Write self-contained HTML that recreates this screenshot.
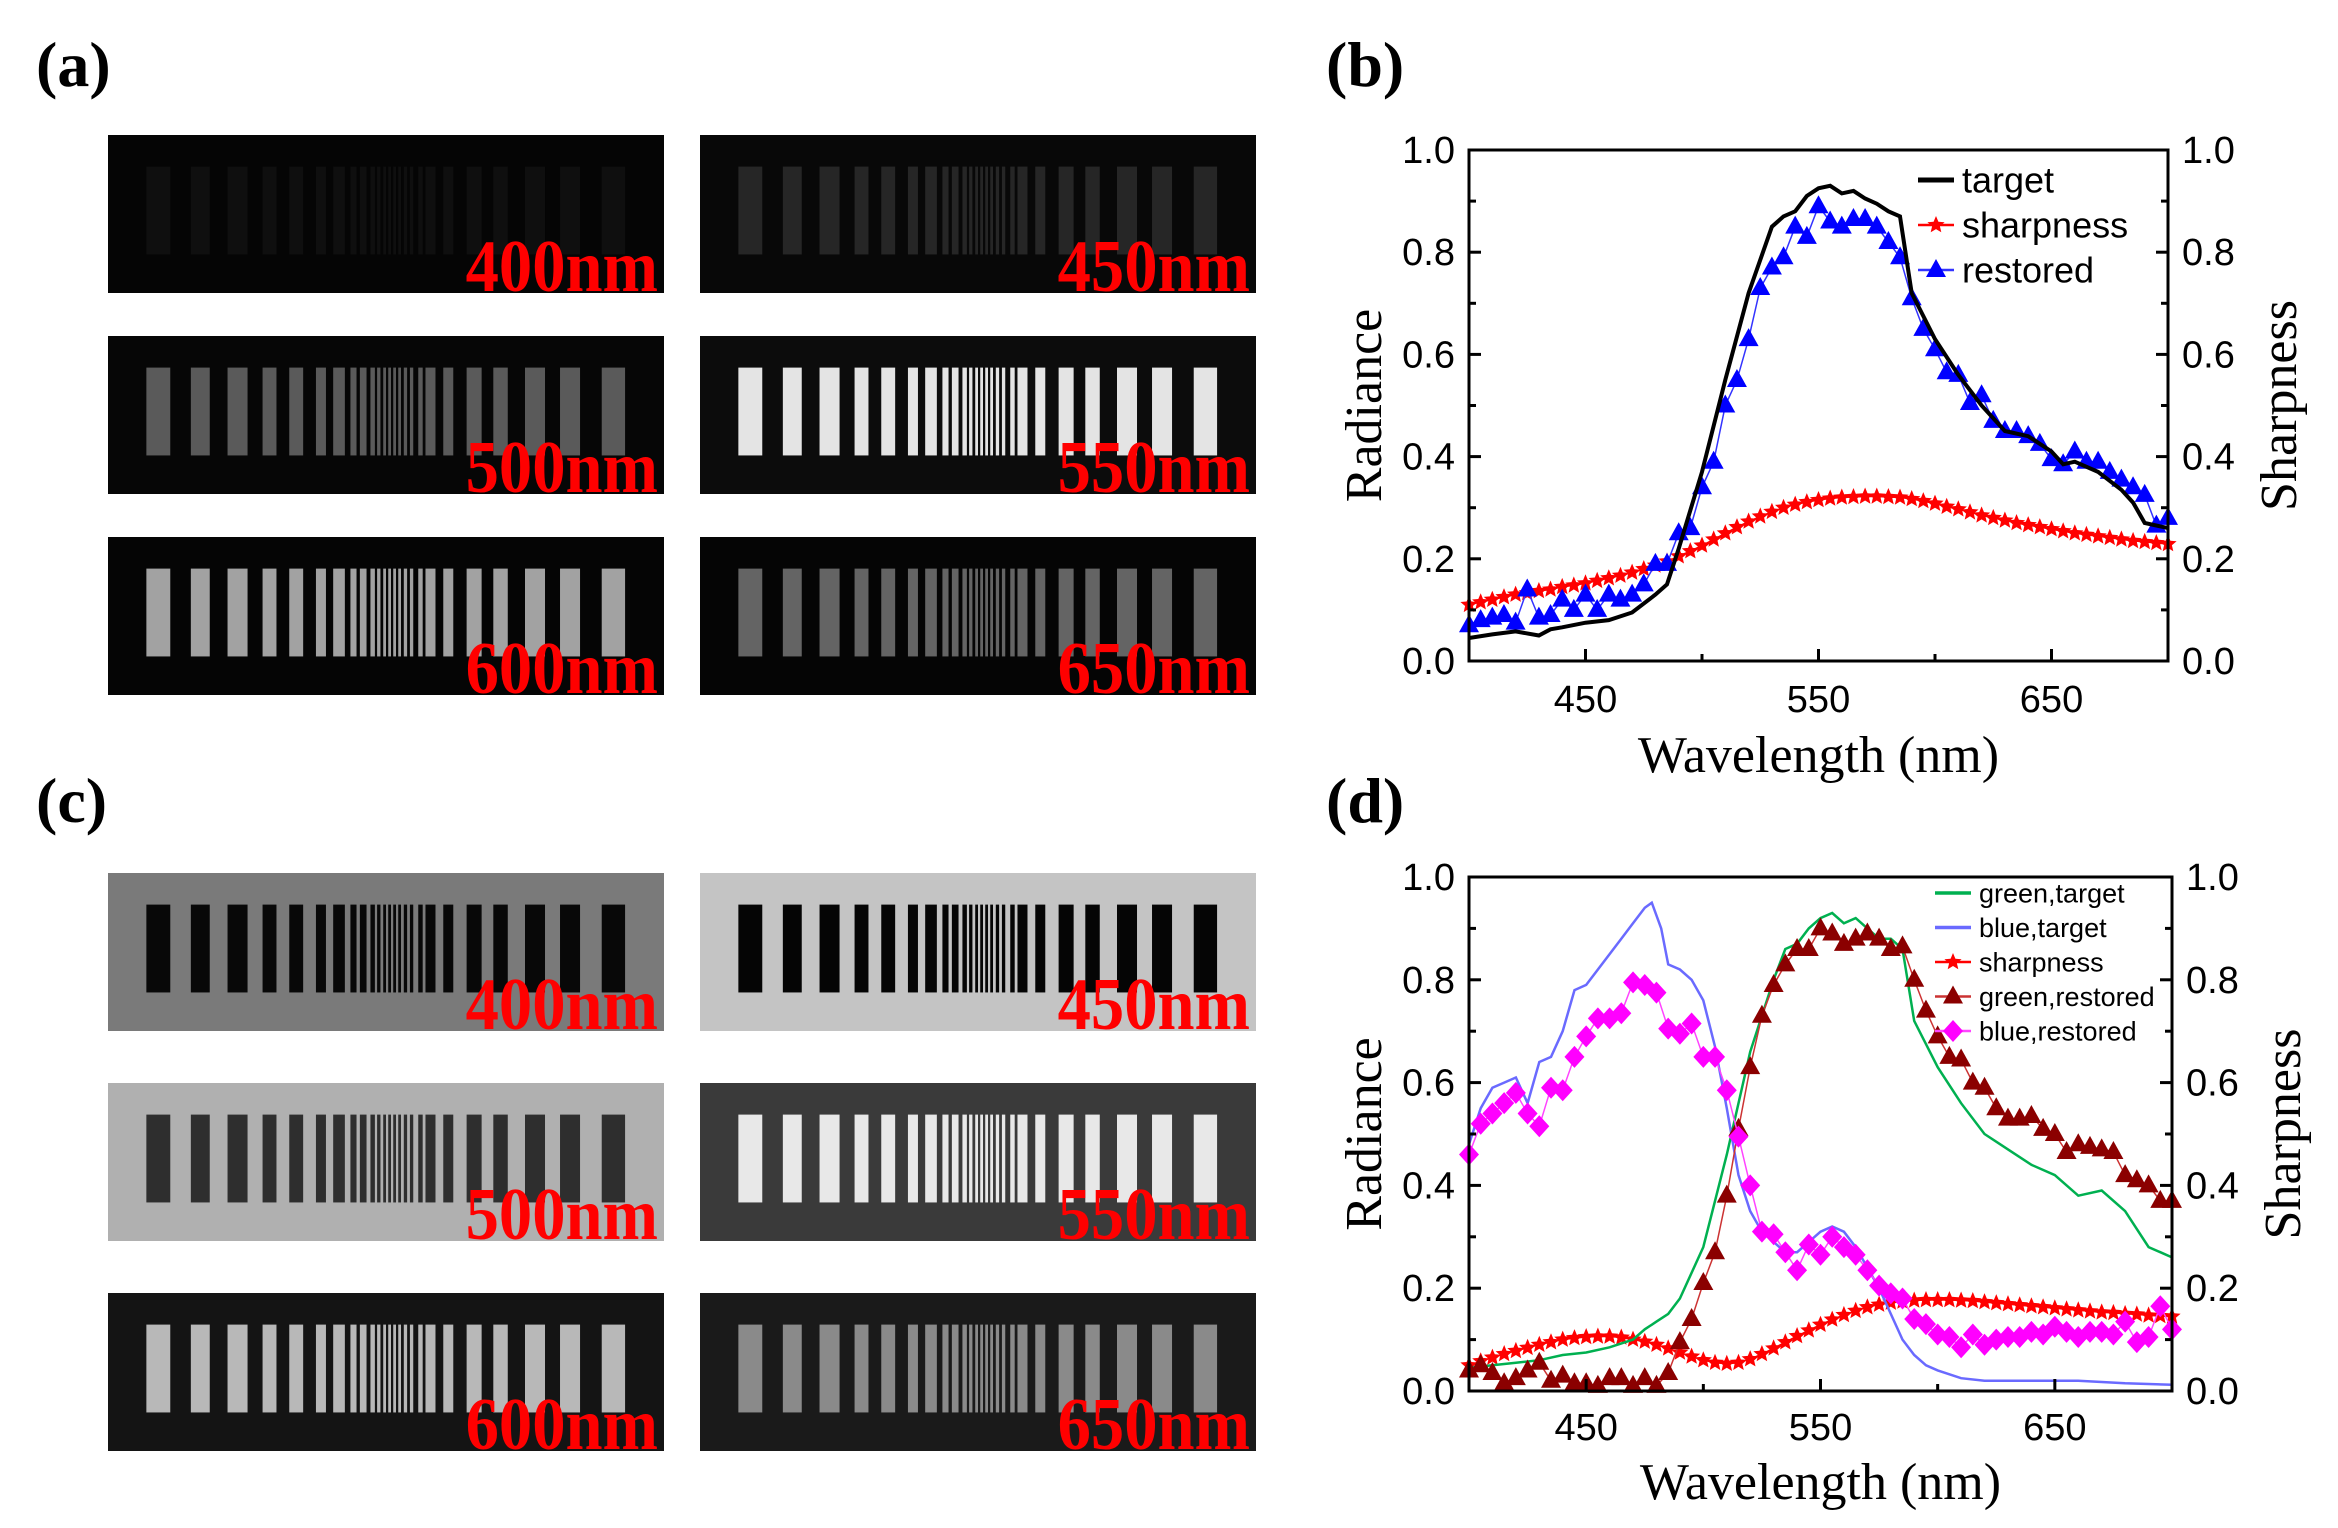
<!DOCTYPE html>
<html><head><meta charset="utf-8"><style>
html,body{margin:0;padding:0;background:#fff;}
svg{display:block;}
</style></head><body>
<svg id="fig" xmlns="http://www.w3.org/2000/svg" width="2338" height="1528" viewBox="0 0 2338 1528">
<rect width="2338" height="1528" fill="#fff"/>
<g font-family="Liberation Serif, serif" font-weight="bold" font-size="64" fill="#000">
<text x="36" y="86">(a)</text>
<text x="1326" y="86">(b)</text>
<text x="36" y="822">(c)</text>
<text x="1326" y="822">(d)</text>
</g>
<g id="tiles"></g>
<g id="chartB"></g>
<g id="chartD"></g>
</svg>
<script>
// ---- bar target geometry (fractions of tile width) ----
const barStarts=[0.069,0.149,0.215,0.278,0.326,0.374,0.405,0.436,0.453,0.472,0.484,0.495,0.504,0.513,0.522,0.532,0.543,0.558,0.571,0.603,0.645,0.693,0.750,0.813,0.888];
const barEnds=[0.112,0.183,0.251,0.303,0.351,0.392,0.426,0.447,0.465,0.480,0.490,0.500,0.509,0.518,0.527,0.538,0.549,0.566,0.589,0.621,0.672,0.719,0.786,0.849,0.930];
const tileLabels=["400nm","450nm","500nm","550nm","600nm","650nm"];
const aBg=["#050505","#080808","#060606","#0c0c0c","#050505","#050505"];
const aBar=["#0f0f0f","#262626","#5a5a5a","#e4e4e4","#a2a2a2","#646464"];
const cBg=["#7a7a7a","#c4c4c4","#b0b0b0","#3a3a3a","#141414","#1a1a1a"];
const cBar=["#080808","#050505","#2e2e2e","#e8e8e8","#b8b8b8","#8a8a8a"];
const NS="http://www.w3.org/2000/svg";
function mk(tag,attrs,parent){const e=document.createElementNS(NS,tag);for(const k in attrs)e.setAttribute(k,attrs[k]);parent.appendChild(e);return e;}
const tilesG=document.getElementById('tiles');
const colX=[108,700], tileW=556, tileH=158;
const rowsA=[135,336,537], rowsC=[873,1083,1293];
function drawTiles(rows,bg,bar,pre){
 for(let i=0;i<6;i++){
  const x=colX[i%2], y=rows[Math.floor(i/2)];
  const g=mk('g',{},tilesG);
  
  
  mk('rect',{x:x,y:y,width:tileW,height:tileH,fill:bg[i]},g);
  for(let j=0;j<barStarts.length;j++){
   const r=mk('rect',{x:x+barStarts[j]*tileW,y:y+0.2*tileH,width:(barEnds[j]-barStarts[j])*tileW,height:0.556*tileH,fill:bar[i]},g);
   
   
  }
  const t=mk('text',{x:0,y:0,'font-family':'Liberation Serif, serif','font-weight':'bold','font-size':'74',fill:'#ff0000','text-anchor':'end',transform:`translate(${x+tileW-6},${y+tileH-2}) scale(0.9,1)`},g);
  t.textContent=tileLabels[i];
  
  
 }
}
drawTiles(rowsA,aBg,aBar,'a');
drawTiles(rowsC,cBg,cBar,'c');

// ---- chart b data ----
const bTargetX=[400,410,420,430,435,440,450,460,470,480,485,490,500,510,520,530,535,540,545,550,555,560,565,570,575,580,585,590,600,610,620,630,640,650,655,660,670,680,685,690,700];
const bTargetY=[0.045,0.052,0.058,0.05,0.062,0.066,0.075,0.08,0.095,0.13,0.15,0.22,0.37,0.55,0.72,0.85,0.87,0.88,0.91,0.925,0.93,0.915,0.92,0.905,0.895,0.88,0.87,0.72,0.63,0.56,0.5,0.45,0.44,0.41,0.385,0.39,0.37,0.335,0.31,0.27,0.26];
const bRestX=[400,405,410,415,420,425,430,435,440,445,450,455,460,465,470,475,480,485,490,495,500,505,510,515,520,525,530,535,540,545,550,555,560,565,570,575,580,585,590,595,600,605,610,615,620,625,630,635,640,645,650,655,660,665,670,675,680,685,690,695,700];
const bRestY=[0.07,0.08,0.085,0.09,0.075,0.14,0.085,0.09,0.12,0.1,0.13,0.1,0.13,0.12,0.13,0.15,0.19,0.19,0.25,0.26,0.34,0.39,0.5,0.55,0.63,0.73,0.77,0.79,0.85,0.83,0.89,0.86,0.85,0.865,0.865,0.85,0.82,0.79,0.71,0.65,0.61,0.565,0.56,0.505,0.52,0.47,0.45,0.45,0.44,0.425,0.395,0.385,0.41,0.39,0.39,0.37,0.355,0.34,0.325,0.265,0.28];
const bSharpX=[400,405,410,415,420,425,430,435,440,445,450,455,460,465,470,475,480,485,490,495,500,505,510,515,520,525,530,535,540,545,550,555,560,565,570,575,580,585,590,595,600,605,610,615,620,625,630,635,640,645,650,655,660,665,670,675,680,685,690,695,700];
const bSharpY=[0.11,0.115,0.12,0.125,0.13,0.133,0.137,0.14,0.145,0.148,0.152,0.157,0.162,0.167,0.173,0.18,0.187,0.195,0.205,0.215,0.226,0.238,0.25,0.262,0.273,0.283,0.292,0.3,0.306,0.311,0.315,0.318,0.32,0.321,0.322,0.322,0.321,0.32,0.317,0.313,0.308,0.302,0.297,0.291,0.285,0.28,0.275,0.27,0.266,0.262,0.258,0.254,0.25,0.247,0.244,0.241,0.238,0.235,0.233,0.231,0.229];

// ---- chart d data ----
const dGreenX=[400,410,420,430,440,450,460,470,475,480,485,490,500,510,520,530,535,540,545,550,555,560,565,570,575,580,585,590,600,610,620,630,640,650,660,670,680,690,695,700];
const dGreenY=[0.045,0.05,0.055,0.06,0.07,0.075,0.085,0.1,0.12,0.135,0.15,0.18,0.28,0.46,0.66,0.8,0.86,0.87,0.9,0.92,0.93,0.91,0.92,0.9,0.88,0.88,0.86,0.72,0.63,0.56,0.5,0.47,0.44,0.42,0.38,0.39,0.35,0.28,0.27,0.26];
const dBlueX=[400,405,410,415,420,425,430,435,440,445,450,455,460,465,470,475,478,482,485,490,495,500,505,510,515,520,525,530,535,540,545,550,555,560,565,570,575,580,585,590,595,600,610,620,640,660,680,700];
const dBlueY=[0.48,0.55,0.59,0.6,0.61,0.56,0.64,0.65,0.7,0.78,0.79,0.82,0.85,0.88,0.91,0.94,0.95,0.9,0.83,0.82,0.8,0.76,0.67,0.55,0.42,0.35,0.31,0.29,0.27,0.27,0.29,0.31,0.32,0.31,0.28,0.24,0.2,0.15,0.1,0.07,0.05,0.04,0.025,0.02,0.02,0.02,0.015,0.012];
const dGRestX=[400,405,410,415,420,425,430,435,440,445,450,455,460,465,470,475,480,485,490,495,500,505,510,515,520,525,530,535,540,545,550,555,560,565,570,575,580,585,590,595,600,605,610,615,620,625,630,635,640,645,650,655,660,665,670,675,680,685,690,695,700];
const dGRestY=[0.04,0.05,0.035,0.015,0.025,0.04,0.055,0.02,0.03,0.015,0.015,0.01,0.025,0.025,0.01,0.025,0.01,0.035,0.095,0.14,0.21,0.27,0.38,0.51,0.63,0.73,0.79,0.83,0.86,0.86,0.9,0.89,0.87,0.88,0.89,0.88,0.86,0.865,0.8,0.74,0.69,0.65,0.645,0.6,0.59,0.55,0.53,0.53,0.535,0.51,0.5,0.465,0.48,0.475,0.47,0.465,0.42,0.41,0.4,0.37,0.37];
const dBRestX=[400,405,410,415,420,425,430,435,440,445,450,455,460,465,470,475,480,485,490,495,500,505,510,515,520,525,530,535,540,545,550,555,560,565,570,575,580,585,590,595,600,605,610,615,620,625,630,635,640,645,650,655,660,665,670,675,680,685,690,695,700];
const dBRestY=[0.46,0.52,0.54,0.56,0.58,0.54,0.515,0.59,0.585,0.65,0.69,0.725,0.725,0.735,0.795,0.79,0.775,0.705,0.695,0.715,0.65,0.65,0.585,0.495,0.4,0.31,0.305,0.27,0.235,0.285,0.265,0.3,0.28,0.265,0.235,0.205,0.19,0.18,0.14,0.13,0.11,0.105,0.085,0.11,0.09,0.1,0.105,0.105,0.115,0.11,0.125,0.115,0.105,0.115,0.115,0.11,0.135,0.095,0.105,0.165,0.12];
const dSharpX=[400,405,410,415,420,425,430,435,440,445,450,455,460,465,470,475,480,485,490,495,500,505,510,515,520,525,530,535,540,545,550,555,560,565,570,575,580,585,590,595,600,605,610,615,620,625,630,635,640,645,650,655,660,665,670,675,680,685,690,695,700];
const dSharpY=[0.05,0.058,0.065,0.072,0.078,0.084,0.09,0.095,0.1,0.103,0.105,0.106,0.106,0.104,0.1,0.096,0.09,0.083,0.075,0.067,0.06,0.055,0.053,0.055,0.062,0.072,0.083,0.095,0.107,0.118,0.129,0.139,0.148,0.156,0.163,0.168,0.172,0.174,0.176,0.177,0.177,0.177,0.176,0.175,0.173,0.171,0.169,0.167,0.165,0.163,0.161,0.159,0.157,0.155,0.153,0.152,0.15,0.149,0.147,0.146,0.145];
const xTicks=[450,550,650];
const yTickLabels=["0.0","0.2","0.4","0.6","0.8","1.0"];
const yTickVals=[0,0.2,0.4,0.6,0.8,1.0];

function star(cx,cy,r){let p=[];for(let k=0;k<10;k++){const a=-Math.PI/2+k*Math.PI/5;const rr=k%2?r*0.45:r;p.push((cx+rr*Math.cos(a)).toFixed(1)+','+(cy+rr*Math.sin(a)).toFixed(1));}return p.join(' ');}
function marker(g,type,x,y,color,name){
 let e;
 if(type==='tri') e=mk('polygon',{points:`${x},${y-11} ${x-10},${y+7} ${x+10},${y+7}`,fill:color},g);
 else if(type==='star') e=mk('polygon',{points:star(x,y,9),fill:color},g);
 else if(type==='dia') e=mk('polygon',{points:`${x},${y-11} ${x+10},${y} ${x},${y+11} ${x-10},${y}`,fill:color},g);
 else e=mk('circle',{cx:x,cy:y,r:2.5,fill:color},g);
 
 
}
function chart(id,L,R,T,B,series,legend,lx,ly,lstep,lfs,titleY,tickY){
 const g=document.getElementById(id);
 const sx=v=>L+(v-400)/300*(R-L), sy=v=>B-v*(B-T);
 for(const s of series){
  const sg=mk('g',{},g);
  
  
  const pts=s.x.map((v,i)=>sx(v).toFixed(1)+','+sy(s.y[i]).toFixed(1)).join(' ');
  mk('polyline',{points:pts,fill:'none',stroke:s.line,'stroke-width':s.w},sg);
  if(s.m) s.x.forEach((v,i)=>marker(sg,s.m,sx(v),sy(s.y[i]),s.mc,'point'));
 }
 const ax=mk('rect',{x:L,y:T,width:R-L,height:B-T,fill:'none',stroke:'#000','stroke-width':3},g);
 
 
 const tg=mk('g',{'font-family':'Liberation Sans, sans-serif','font-size':'38',fill:'#000'},g);
 for(const t of xTicks){
  mk('line',{x1:sx(t),x2:sx(t),y1:B,y2:B-12,stroke:'#000','stroke-width':3},g);
  const tx=mk('text',{x:sx(t),y:tickY,'text-anchor':'middle'},tg);tx.textContent=t;
  
  
 }
 for(const t of [500,600]) mk('line',{x1:sx(t),x2:sx(t),y1:B,y2:B-7,stroke:'#000','stroke-width':3},g);
 yTickVals.forEach((v,i)=>{
  mk('line',{x1:L,x2:L+12,y1:sy(v),y2:sy(v),stroke:'#000','stroke-width':3},g);
  mk('line',{x1:R,x2:R-12,y1:sy(v),y2:sy(v),stroke:'#000','stroke-width':3},g);
  if(v<1){
   mk('line',{x1:L,x2:L+7,y1:sy(v+0.1),y2:sy(v+0.1),stroke:'#000','stroke-width':3},g);
   mk('line',{x1:R,x2:R-7,y1:sy(v+0.1),y2:sy(v+0.1),stroke:'#000','stroke-width':3},g);
  }
  const a=mk('text',{x:L-14,y:sy(v)+13,'text-anchor':'end'},tg);a.textContent=yTickLabels[i];
  
  
  const b=mk('text',{x:R+14,y:sy(v)+13,'text-anchor':'start'},tg);b.textContent=yTickLabels[i];
  
  
 });
 const tt=mk('g',{'font-family':'Liberation Serif, serif','font-size':'52',fill:'#000'},g);
 const xt=mk('text',{x:(L+R)/2,y:titleY,'text-anchor':'middle'},tt);xt.textContent='Wavelength (nm)';
 
 
 const yl=mk('text',{x:0,y:0,'text-anchor':'middle',transform:`translate(${L-88},${(T+B)/2}) rotate(-90)`},tt);yl.textContent='Radiance';
 
 
 const yr=mk('text',{x:0,y:0,'text-anchor':'middle',transform:`translate(${R+128},${(T+B)/2}) rotate(-90)`},tt);yr.textContent='Sharpness';
 
 
 legend.forEach((s,i)=>{
  const lg=mk('g',{},g);
  
  
  const y=ly+i*lstep;
  mk('line',{x1:lx,x2:lx+36,y1:y,y2:y,stroke:s.line,'stroke-width':s.w+1},lg);
  if(s.m) marker(lg,s.m,lx+18,y,s.mc,'legend-marker');
  const t=mk('text',{x:lx+44,y:y+lfs*0.35,'font-family':'Liberation Sans, sans-serif','font-size':lfs,fill:'#000'},lg);
  t.textContent=s.label;
 });
}
const bSeries=[
 {name:'sharpness-series',x:bSharpX,y:bSharpY,line:'#ff0000',w:1.5,m:'star',mc:'#ff0000',label:'sharpness'},
 {name:'restored-series',x:bRestX,y:bRestY,line:'#3333ff',w:1.5,m:'tri',mc:'#0000ff',label:'restored'},
 {name:'target-series',x:bTargetX,y:bTargetY,line:'#000',w:4,m:null,mc:'#000',label:'target'}];
chart('chartB',1469,2168,150,661,bSeries,[bSeries[2],bSeries[0],bSeries[1]],1918,180,45,36,772,712);
const dSeries=[
 {name:'sharpness-series',x:dSharpX,y:dSharpY,line:'#ff0000',w:1.5,m:'star',mc:'#ff0000',label:'sharpness'},
 {name:'green-target-series',x:dGreenX,y:dGreenY,line:'#00b050',w:2.5,m:null,mc:'#00b050',label:'green,target'},
 {name:'blue-target-series',x:dBlueX,y:dBlueY,line:'#6a6aff',w:2.5,m:null,mc:'#3333ff',label:'blue,target'},
 {name:'green-restored-series',x:dGRestX,y:dGRestY,line:'#cc3333',w:1.5,m:'tri',mc:'#8b0000',label:'green,restored'},
 {name:'blue-restored-series',x:dBRestX,y:dBRestY,line:'#ff44ff',w:1.5,m:'dia',mc:'#ff00ff',label:'blue,restored'}];
chart('chartD',1469,2172,877,1391,dSeries,[dSeries[1],dSeries[2],dSeries[0],dSeries[3],dSeries[4]],1935,893,34.5,27,1499,1440);
</script>
</body></html>
